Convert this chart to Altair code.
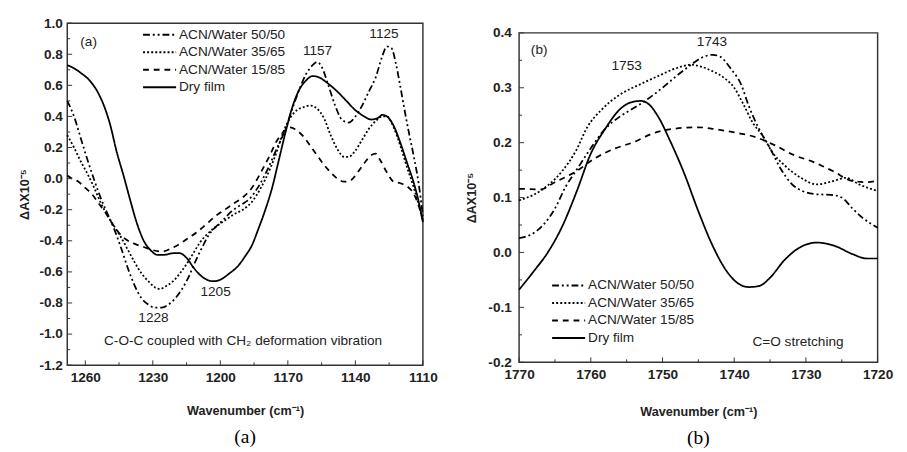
import altair as alt
import pandas as pd

SERIES = ["ACN/Water 50/50", "ACN/Water 35/65", "ACN/Water 15/85", "Dry film"]
DASHES = [[7, 3, 2, 3, 2, 3], [2, 2.2], [6, 5], [1, 0]]

# ---------------- panel (a) ----------------
a_dry_x = [1268, 1265, 1262, 1258, 1255, 1252, 1249, 1246, 1243, 1240,
           1237, 1234, 1231, 1228, 1225, 1221, 1218, 1215, 1212, 1209,
           1206, 1203, 1200, 1196, 1192, 1189, 1186, 1183, 1180, 1177,
           1174, 1171, 1168, 1165, 1162, 1159, 1156, 1152, 1148, 1144,
           1140, 1136, 1133, 1130, 1128, 1126, 1123, 1120, 1117, 1114,
           1112, 1110]
a_dry_y = [0.73, 0.71, 0.68, 0.63, 0.57, 0.48, 0.35, 0.17, 0.02, -0.14,
           -0.29, -0.40, -0.46, -0.49, -0.49, -0.48, -0.48, -0.51, -0.57, -0.62,
           -0.65, -0.66, -0.65, -0.61, -0.56, -0.50, -0.43, -0.32, -0.20, -0.06,
           0.12, 0.30, 0.46, 0.57, 0.63, 0.66, 0.65, 0.61, 0.56, 0.50,
           0.44, 0.40, 0.38, 0.39, 0.41, 0.40, 0.34, 0.23, 0.10, -0.03,
           -0.14, -0.28]

a_5050_x = [1268, 1265, 1262, 1259, 1256, 1253, 1250, 1247, 1244, 1241,
            1238, 1235, 1232, 1229, 1226, 1223, 1220, 1217, 1214, 1211,
            1208, 1205, 1202, 1199, 1195, 1191, 1187, 1183, 1179, 1175,
            1171, 1168, 1165, 1162, 1159, 1157, 1155, 1152, 1149, 1146,
            1143, 1140, 1137, 1134, 1131, 1128, 1126, 1124, 1122, 1120,
            1118, 1116, 1114, 1112, 1110]
a_5050_y = [0.50, 0.40, 0.26, 0.12, -0.01, -0.13, -0.23, -0.33, -0.45, -0.58,
            -0.69, -0.77, -0.81, -0.83, -0.83, -0.81, -0.77, -0.71, -0.63, -0.53,
            -0.44, -0.36, -0.31, -0.27, -0.21, -0.17, -0.13, -0.05, 0.06, 0.19,
            0.32, 0.45, 0.57, 0.67, 0.73, 0.75, 0.72, 0.60, 0.47, 0.38,
            0.36, 0.40, 0.47, 0.56, 0.65, 0.79, 0.85, 0.84, 0.74, 0.59,
            0.43, 0.28, 0.14, -0.02, -0.24]

a_3565_x = [1268, 1265, 1262, 1259, 1256, 1253, 1250, 1247, 1244, 1241,
            1238, 1235, 1232, 1229, 1227, 1224, 1221, 1218, 1215, 1212,
            1209, 1206, 1202, 1198, 1194, 1190, 1186, 1182, 1178, 1175,
            1172, 1169, 1166, 1163, 1160, 1157, 1154, 1151, 1148, 1145,
            1143, 1140, 1137, 1134, 1131, 1128, 1126, 1123, 1120, 1117,
            1114, 1112, 1110]
a_3565_y = [0.28, 0.20, 0.11, 0.03, -0.06, -0.16, -0.24, -0.31, -0.38, -0.46,
            -0.54, -0.61, -0.66, -0.70, -0.71, -0.69, -0.66, -0.61, -0.55, -0.48,
            -0.41, -0.36, -0.31, -0.27, -0.23, -0.20, -0.15, -0.06, 0.06, 0.17,
            0.30, 0.39, 0.44, 0.46, 0.47, 0.45, 0.39, 0.28, 0.19, 0.14,
            0.14, 0.18, 0.25, 0.32, 0.37, 0.40, 0.40, 0.33, 0.21, 0.07,
            -0.06, -0.16, -0.27]

a_1585_x = [1268, 1266, 1263, 1260, 1257, 1254, 1251, 1248, 1245, 1242,
            1238, 1234, 1230, 1226, 1222, 1218, 1214, 1210, 1206, 1202,
            1198, 1194, 1190, 1186, 1182, 1178, 1175, 1172, 1169, 1166,
            1163, 1160, 1157, 1154, 1151, 1148, 1145, 1142, 1139, 1136,
            1133, 1131, 1129, 1126, 1123, 1120, 1117, 1114, 1112, 1110]
a_1585_y = [0.02, 0.00, -0.02, -0.06, -0.10, -0.16, -0.22, -0.29, -0.35, -0.39,
            -0.42, -0.44, -0.46, -0.47, -0.45, -0.42, -0.38, -0.34, -0.29, -0.24,
            -0.20, -0.16, -0.12, -0.06, 0.04, 0.15, 0.24, 0.30, 0.33, 0.31,
            0.27, 0.21, 0.15, 0.09, 0.04, 0.00, -0.02, -0.01, 0.04, 0.10,
            0.15, 0.16, 0.12, 0.04, -0.02, -0.03, -0.05, -0.10, -0.17, -0.27]

a_ann_text = ["(a)", "1157", "1125", "1205", "1228",
              "C-O-C coupled with CH\u2082 deformation vibration"]
a_ann_x = [1258.5, 1156.8, 1127.3, 1202.1, 1229.7, 1189.9]
a_ann_y = [0.877, 0.82, 0.93, -0.73, -0.90, -1.043]

a_xmajor = [1260, 1230, 1200, 1170, 1140, 1110]
a_xminor = [1245, 1215, 1185, 1155, 1125]
a_ymajor = [-1.2, -1.0, -0.8, -0.6, -0.4, -0.2, 0.0, 0.2, 0.4, 0.6, 0.8, 1.0]
a_yminor = [-1.1, -0.9, -0.7, -0.5, -0.3, -0.1, 0.1, 0.3, 0.5, 0.7, 0.9]

# ---------------- panel (b) ----------------
b_dry_x = [1770, 1768, 1766, 1764, 1762, 1760, 1758, 1756, 1754.5, 1753,
           1752, 1750.5, 1749, 1747, 1745, 1743, 1741, 1739.5, 1738, 1736.5,
           1735, 1733, 1731, 1728.5, 1726, 1723.5, 1721.5, 1720]
b_dry_y = [-0.068, -0.035, 0.0, 0.047, 0.11, 0.18, 0.225, 0.26, 0.273, 0.276,
           0.271, 0.245, 0.205, 0.145, 0.075, 0.012, -0.035, -0.056, -0.063, -0.061,
           -0.046, -0.014, 0.008, 0.018, 0.012, -0.003, -0.011, -0.011]

b_5050_x = [1770, 1768, 1766.5, 1765, 1763.5, 1762, 1760, 1758, 1756, 1754,
            1752, 1750, 1748, 1746, 1744.5, 1743, 1742, 1740.5, 1739, 1738,
            1736.5, 1735, 1733.5, 1732, 1730.5, 1728.5, 1726.5, 1725, 1723.5, 1722,
            1720]
b_5050_y = [0.026, 0.035, 0.052, 0.08, 0.12, 0.15, 0.19, 0.225, 0.247, 0.263,
            0.28, 0.30, 0.322, 0.342, 0.355, 0.36, 0.357, 0.335, 0.305, 0.268,
            0.224, 0.19, 0.152, 0.125, 0.112, 0.106, 0.105, 0.10, 0.08, 0.062,
            0.045]

b_3565_x = [1770, 1768, 1766, 1764, 1762, 1760.5, 1758.5, 1756, 1753, 1750.5,
            1748, 1746, 1744.5, 1743, 1741.5, 1740, 1738.8, 1737.4, 1736, 1734.7,
            1733, 1730.7, 1728.5, 1726.2, 1724.4, 1722.6, 1720]
b_3565_y = [0.095, 0.105, 0.122, 0.148, 0.187, 0.228, 0.26, 0.287, 0.307, 0.322,
            0.336, 0.342, 0.338, 0.33, 0.319, 0.30, 0.272, 0.236, 0.212, 0.183,
            0.159, 0.136, 0.124, 0.13, 0.136, 0.124, 0.112]

b_1585_x = [1770, 1767, 1765, 1762, 1759.5, 1756.7, 1754, 1751.3, 1748.6, 1745,
            1742.4, 1739.7, 1737, 1734.3, 1731.6, 1729, 1726.2, 1723.5, 1721.5, 1720]
b_1585_y = [0.116, 0.115, 0.128, 0.148, 0.171, 0.189, 0.201, 0.217, 0.225, 0.228,
            0.224, 0.218, 0.21, 0.195, 0.177, 0.165, 0.148, 0.13, 0.128, 0.131]

b_ann_text = ["(b)", "1753", "1743", "C=O stretching"]
b_ann_x = [1767.2, 1755.0, 1743.1, 1731.1]
b_ann_y = [0.369, 0.34, 0.384, -0.163]

b_xmajor = [1770, 1760, 1750, 1740, 1730, 1720]
b_xminor = [1765, 1755, 1745, 1735, 1725]
b_ymajor = [-0.2, -0.1, 0.0, 0.1, 0.2, 0.3, 0.4]
b_yminor = [-0.15, -0.05, 0.05, 0.15, 0.25, 0.35]

FONT = "Liberation Sans"
FRAME = "#333333"
TXT = "#222222"


def build_df(groups):
    rows = []
    for name, xs, ys in groups:
        assert len(xs) == len(ys), name
        for i, (x, y) in enumerate(zip(xs, ys)):
            rows.append({"series": name, "x": x, "y": y, "i": i})
    return pd.DataFrame(rows)


def panel(df, ann, xdom, ydom, xmaj, xmin, ymaj, ymin, W, H, lx, ly,
          caption, ylab_pad, ytitle_pad, xlab_pad, xtitle_pad):
    xs = alt.Scale(domain=xdom, reverse=True, nice=False, zero=False)
    ys = alt.Scale(domain=ydom, nice=False, zero=False)
    xax = alt.Axis(
        values=xmaj, title="Wavenumber (cm\u207b\u00b9)", grid=False,
        ticks=False, domain=False, labelFlush=False, labelPadding=xlab_pad,
        labelFont=FONT, labelFontSize=14, labelFontWeight="bold",
        labelColor=TXT, titleFont=FONT, titleFontSize=13,
        titleFontWeight="bold", titleColor=TXT, titlePadding=xtitle_pad,
        format="d")
    yax = alt.Axis(
        values=ymaj, title="\u0394AX10\u207b\u2075", grid=False,
        ticks=False, domain=False, labelPadding=ylab_pad,
        labelExpr="replace(format(datum.value, '.1f'), '\u2212', '-')",
        labelFont=FONT, labelFontSize=14, labelFontWeight="bold",
        labelColor=TXT, titleFont=FONT, titleFontSize=13,
        titleFontWeight="bold", titleColor=TXT, titlePadding=ytitle_pad)
    X = alt.X("x:Q", scale=xs, axis=xax)
    Y = alt.Y("y:Q", scale=ys, axis=yax)

    lines = alt.Chart(df).mark_line(
        color="black", strokeWidth=1.8, interpolate="monotone"
    ).encode(
        x=X, y=Y,
        strokeDash=alt.StrokeDash("series:N", scale=alt.Scale(domain=SERIES, range=DASHES),
                                  legend=alt.Legend(
                                      orient="none", legendX=lx, legendY=ly, title=None,
                                      symbolType="stroke", symbolSize=1156,
                                      symbolStrokeWidth=2, symbolStrokeColor="black",
                                      labelFont=FONT, labelFontSize=14, labelColor=TXT,
                                      labelOffset=2, clipHeight=16, rowPadding=2,
                                      padding=0)),
        order="i:Q",
    )

    def xt(vals, L):
        return alt.Chart(pd.DataFrame({"x": vals})).mark_rule(
            color=FRAME, strokeWidth=1).encode(
            x=X, y=alt.value(H), y2=alt.value(H - L))

    def yt(vals, L):
        return alt.Chart(pd.DataFrame({"y": vals})).mark_rule(
            color=FRAME, strokeWidth=1).encode(
            y=Y, x=alt.value(0), x2=alt.value(L))

    text = alt.Chart(ann).mark_text(
        font=FONT, fontSize=14, color=TXT, align="center", baseline="middle"
    ).encode(x=X, y=Y, text="t:N")

    return alt.layer(lines, xt(xmaj, 5), xt(xmin, 3), yt(ymaj, 5), yt(ymin, 3), text).properties(
        width=W, height=H,
        title=alt.TitleParams(caption, orient="bottom", font="Liberation Serif",
                              fontSize=20, fontWeight="normal", color="black", offset=10),
    )


df_a = build_df([(SERIES[0], a_5050_x, a_5050_y), (SERIES[1], a_3565_x, a_3565_y),
                 (SERIES[2], a_1585_x, a_1585_y), (SERIES[3], a_dry_x, a_dry_y)])
df_b = build_df([(SERIES[0], b_5050_x, b_5050_y), (SERIES[1], b_3565_x, b_3565_y),
                 (SERIES[2], b_1585_x, b_1585_y), (SERIES[3], b_dry_x, b_dry_y)])
ann_a = pd.DataFrame({"t": a_ann_text, "x": a_ann_x, "y": a_ann_y})
ann_b = pd.DataFrame({"t": b_ann_text, "x": b_ann_x, "y": b_ann_y})

pa = panel(df_a, ann_a, [1110, 1268], [-1.2, 1.0], a_xmajor, a_xminor, a_ymajor, a_yminor,
           366, 352, 77, 4, "(a)", 5, 8, 6, 21)
pb = panel(df_b, ann_b, [1720, 1770], [-0.2, 0.4], b_xmajor, b_xminor, b_ymajor, b_yminor,
           369, 339, 33, 262, "(b)", 8, 10, 6, 25)

spacer = alt.Chart(pd.DataFrame({"t": [0]})).mark_rule(strokeOpacity=0).encode(
    x=alt.value(0), x2=alt.value(1), y=alt.value(0)
).properties(width=369, height=1, view=alt.ViewBackground(strokeOpacity=0))

chart = alt.hconcat(
    pa, alt.vconcat(spacer, pb, spacing=1), spacing=27
).resolve_scale(strokeDash="independent").resolve_legend(strokeDash="independent").configure_view(
    stroke=FRAME, strokeWidth=1.5
).properties(
    padding={"left": 10, "top": 1, "right": 5, "bottom": 5}, background="white"
)

chart.save("out.html", embed_options={"renderer": "svg", "actions": False})
